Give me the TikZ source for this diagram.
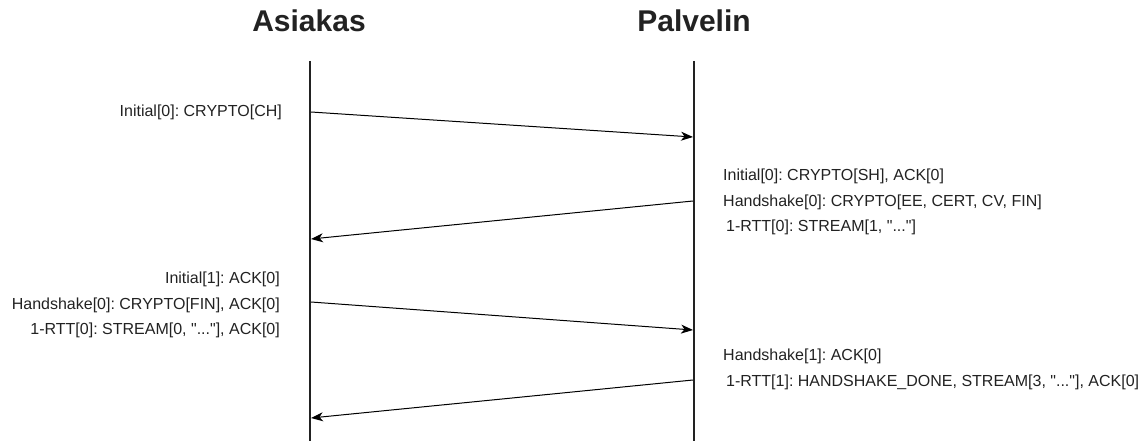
\documentclass[tikz,border=0pt]{standalone}
\usepackage{fontspec}
\setmainfont{Liberation Sans}[Ligatures=TeXOff]
\usetikzlibrary{arrows.meta}
\definecolor{ink}{HTML}{222222}
\frenchspacing
\begin{document}
\begin{tikzpicture}[x=1pt,y=-1pt,
  title/.style={font=\fontsize{30}{36}\selectfont\bfseries, text=ink, inner sep=0pt, anchor=base},
  lbl/.style={font=\fontsize{16}{20}\selectfont, text=ink, inner sep=0pt},
  lblL/.style={lbl, anchor=base east},
  lblR/.style={lbl, anchor=base west},
  lifeline/.style={line width=2pt, draw=ink},
  msg/.style={line width=1pt, draw=black, -{Stealth[length=12pt,width=9pt,inset=3.5pt]}}]
\useasboundingbox (0,0) rectangle (1146,441);

% participants
\node[title] (asiakas) at (309,32) {Asiakas};
\node[title] (palvelin) at (694,32) {Palvelin};

% lifelines
\coordinate (aTop) at (310,61);
\coordinate (aBot) at (310,441);
\coordinate (pTop) at (694,61);
\coordinate (pBot) at (694,441);
\draw[lifeline] (aTop) -- (aBot);
\draw[lifeline] (pTop) -- (pBot);

% message end points
\coordinate (m1s) at (311,112);
\coordinate (m1e) at (693,137);
\coordinate (m2s) at (693,201);
\coordinate (m2e) at (311,239);
\coordinate (m3s) at (311,302);
\coordinate (m3e) at (693,330);
\coordinate (m4s) at (693,380);
\coordinate (m4e) at (311,418);

\draw[msg] (m1s) -- (m1e);
\draw[msg] (m2s) -- (m2e);
\draw[msg] (m3s) -- (m3e);
\draw[msg] (m4s) -- (m4e);

% client flights
\node[lblL] (c1) at (282,117) {Initial[0]: CRYPTO[CH]};
\node[lblL] (c2a) at (280,283) {Initial[1]: ACK[0]};
\node[lblL] (c2b) at (280,309) {Handshake[0]: CRYPTO[FIN], ACK[0]};
\node[lblL] (c2c) at (280,334) {1-RTT[0]: STREAM[0, "..."], ACK[0]};

% server flights
\node[lblR] (s1a) at (723,181) {Initial[0]: CRYPTO[SH], ACK[0]};
\node[lblR] (s1b) at (723,206) {Handshake[0]: CRYPTO[EE, CERT, CV, FIN]};
\node[lblR] (s1c) at (726,231) {1-RTT[0]: STREAM[1, "..."]};
\node[lblR] (s2a) at (723,360) {Handshake[1]: ACK[0]};
\node[lblR] (s2b) at (726,386) {1-RTT[1]: HANDSHAKE\_DONE, STREAM[3, "..."], ACK[0]};
\end{tikzpicture}
\end{document}
